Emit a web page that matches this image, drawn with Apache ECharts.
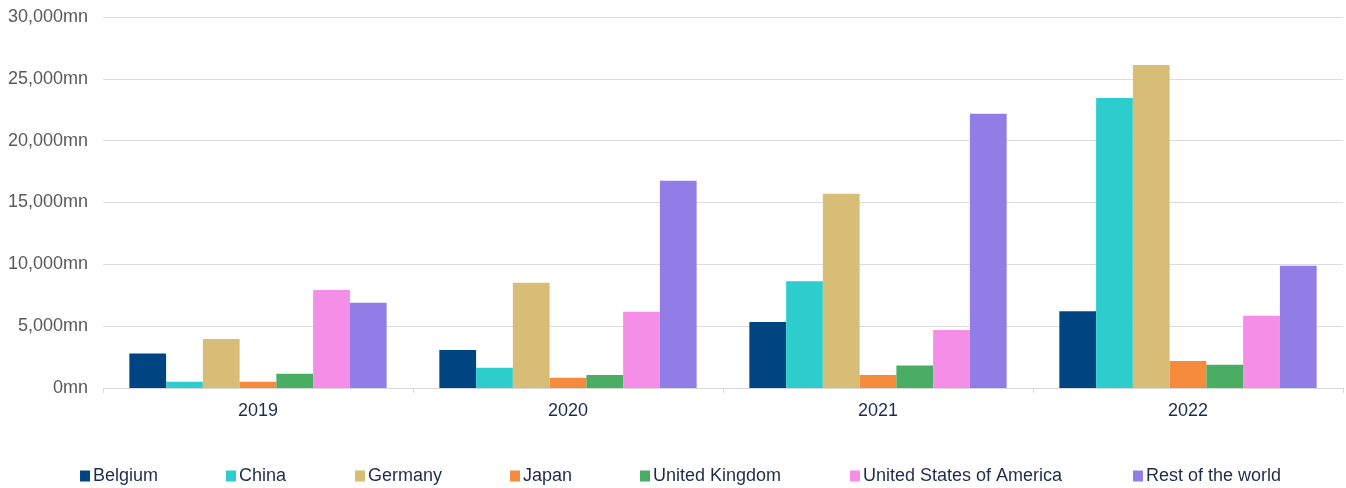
<!DOCTYPE html>
<html>
<head>
<meta charset="utf-8">
<script src="https://cdn.jsdelivr.net/npm/echarts@6/dist/echarts.min.js"></script>
<style>
html,body{margin:0;padding:0;background:#fff;}
#chart{width:1346px;height:488px;}
</style>
</head>
<body>
<div id="chart"></div>
<script>
const years = ['2019', '2020', '2021', '2022'];
const seriesNames = ['Belgium', 'China', 'Germany', 'Japan', 'United Kingdom', 'United States of America', 'Rest of the world'];
const belgium = [2780, 3070, 5340, 6200];
const china = [510, 1640, 8640, 23460];
const germany = [3970, 8520, 15700, 26120];
const japan = [510, 830, 1050, 2190];
const unitedKingdom = [1160, 1050, 1810, 1880];
const usa = [7930, 6170, 4700, 5850];
const restOfWorld = [6890, 16750, 22180, 9890];
const yTicks = [0, 5000, 10000, 15000, 20000, 25000, 30000];

const colors = ['#004481', '#2ecdcd', '#d8bd76', '#f68b3c', '#49ae63', '#f58ee6', '#907de5'];
const values = [belgium, china, germany, japan, unitedKingdom, usa, restOfWorld];
const legendLefts = [75, 221, 350, 505, 635, 845, 1128];

const chart = echarts.init(document.getElementById('chart'), null, {renderer: 'canvas'});
const font = 'Liberation Sans, Arial, sans-serif';

chart.setOption({
  animation: false,
  color: colors,
  textStyle: {fontFamily: font},
  grid: {left: 103, right: 3, top: 17, bottom: 100},
  legend: seriesNames.map((n, i) => ({
    data: [n],
    left: legendLefts[i],
    top: 462,
    icon: 'rect',
    itemWidth: 10,
    itemHeight: 11,
    selectedMode: false,
    textStyle: {fontFamily: font, fontSize: 18, color: '#1e2c4c', padding: [0, 0, 0, -2]}
  })),
  xAxis: {
    type: 'category',
    data: years,
    axisLine: {lineStyle: {color: '#d9d9d9', width: 1}},
    axisTick: {show: true, alignWithLabel: false, length: 5, lineStyle: {color: '#d9d9d9'}},
    axisLabel: {fontFamily: font, fontSize: 18, color: '#1e2c4c', margin: 14}
  },
  yAxis: {
    type: 'value',
    min: yTicks[0],
    max: yTicks[yTicks.length - 1],
    interval: 5000,
    axisLine: {show: false},
    axisTick: {show: false},
    splitLine: {lineStyle: {color: '#dcdcdc', width: 1}},
    axisLabel: {
      fontFamily: font, fontSize: 18, color: '#595959', margin: 15,
      formatter: v => v.toLocaleString('en-US') + 'mn'
    }
  },
  series: seriesNames.map((n, i) => ({
    name: n,
    type: 'bar',
    data: values[i],
    barGap: '0%',
    barCategoryGap: '17%',
    itemStyle: {color: colors[i]}
  }))
});
</script>
</body>
</html>
